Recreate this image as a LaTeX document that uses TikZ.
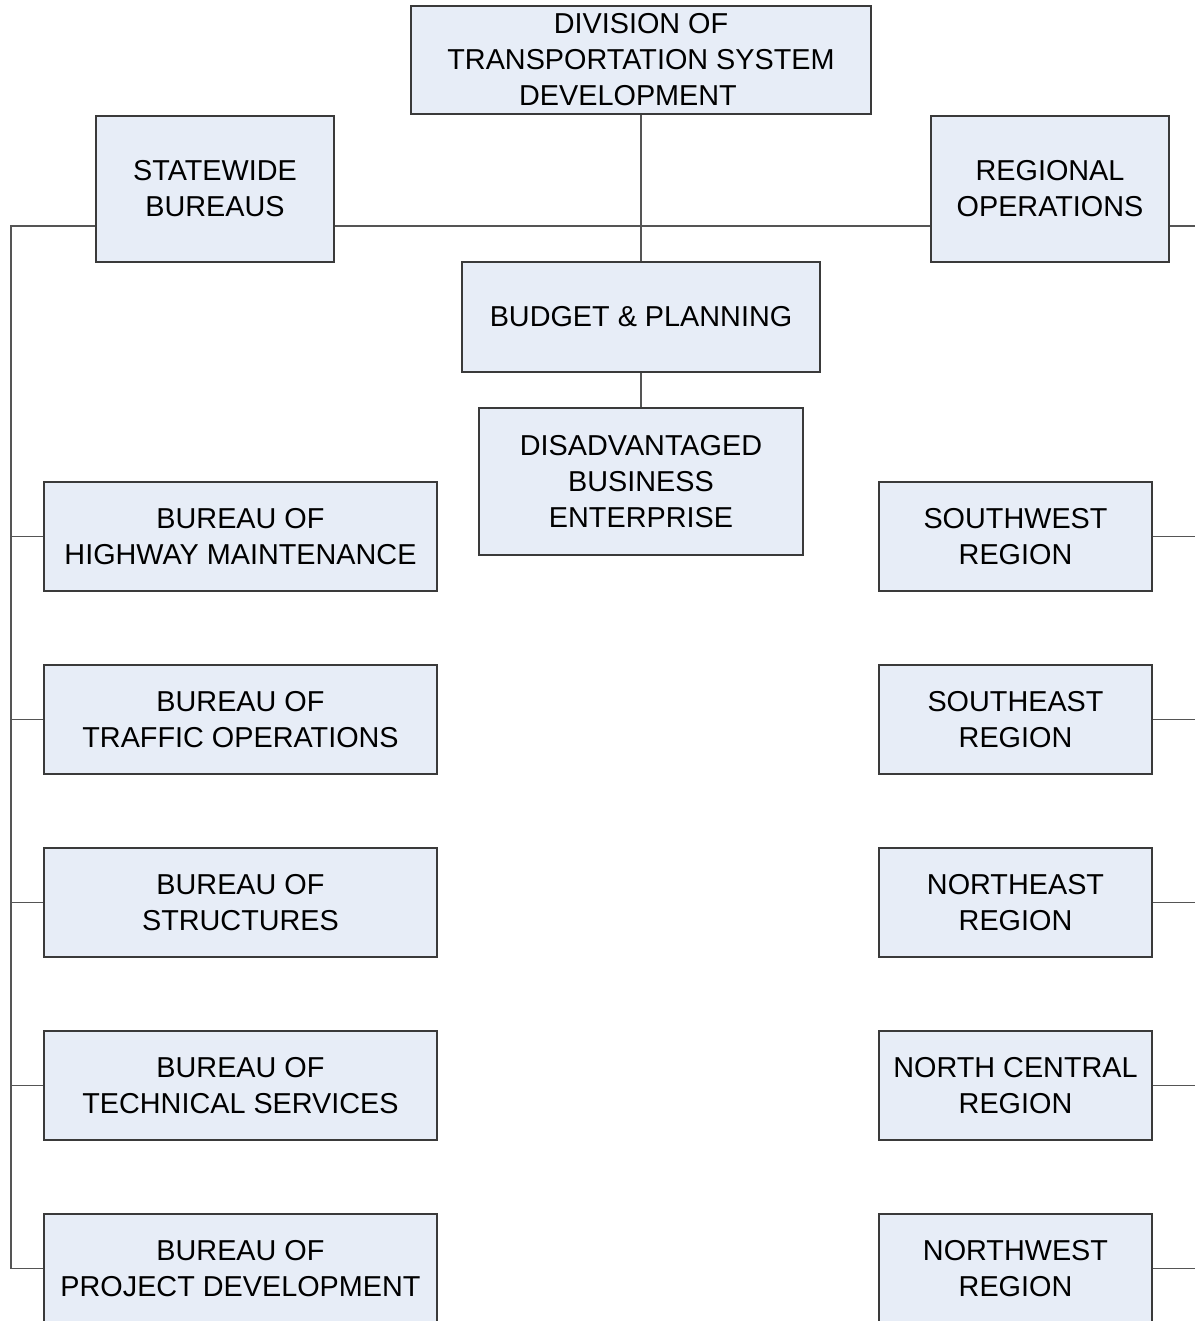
\documentclass[tikz,border=0pt]{standalone}
\usepackage{fontspec}
\setmainfont{Liberation Sans}
\definecolor{boxfill}{HTML}{E7EDF7}
\definecolor{boxline}{HTML}{3A3A3A}
\definecolor{conn}{HTML}{555555}
\begin{document}
\begin{tikzpicture}[x=1pt,y=-1pt,
  orgbox/.style={draw=boxline,fill=boxfill,line width=1.1pt,inner sep=0pt,
    align=center,font=\fontsize{28.8}{36}\selectfont,text=black},
  link/.style={draw=conn,line width=1.2pt}]
\useasboundingbox[fill=white] (0,0) rectangle (1195,1321);
% top level
\node[orgbox,minimum width=460pt,minimum height=108pt] (div) at (641,60)
  {DIVISION OF\\TRANSPORTATION SYSTEM\\\hbox{DEVELOPMENT\kern26pt}};
\node[orgbox,minimum width=238pt,minimum height=146pt] (sw) at (215,189)
  {STATEWIDE\\BUREAUS};
\node[orgbox,minimum width=238pt,minimum height=146pt] (ro) at (1050,189)
  {REGIONAL\\OPERATIONS};
\node[orgbox,minimum width=358pt,minimum height=110pt] (bp) at (641,317)
  {BUDGET \& PLANNING};
\node[orgbox,minimum width=324pt,minimum height=147pt] (dbe) at (641,481.5)
  {DISADVANTAGED\\BUSINESS\\ENTERPRISE};
% left bureaus
\node[orgbox,minimum width=393pt,minimum height=109pt] (b1) at (240.5,536.5)
  {BUREAU OF\\HIGHWAY MAINTENANCE};
\node[orgbox,minimum width=393pt,minimum height=109pt] (b2) at (240.5,719.5)
  {BUREAU OF\\TRAFFIC OPERATIONS};
\node[orgbox,minimum width=393pt,minimum height=109pt] (b3) at (240.5,902.5)
  {BUREAU OF\\STRUCTURES};
\node[orgbox,minimum width=393pt,minimum height=109pt] (b4) at (240.5,1085.5)
  {BUREAU OF\\TECHNICAL SERVICES};
\node[orgbox,minimum width=393pt,minimum height=109pt] (b5) at (240.5,1268.5)
  {BUREAU OF\\PROJECT DEVELOPMENT};
% right regions
\node[orgbox,minimum width=273pt,minimum height=109pt] (r1) at (1015.5,536.5)
  {SOUTHWEST\\REGION};
\node[orgbox,minimum width=273pt,minimum height=109pt] (r2) at (1015.5,719.5)
  {SOUTHEAST\\REGION};
\node[orgbox,minimum width=273pt,minimum height=109pt] (r3) at (1015.5,902.5)
  {NORTHEAST\\REGION};
\node[orgbox,minimum width=273pt,minimum height=109pt] (r4) at (1015.5,1085.5)
  {NORTH CENTRAL\\REGION};
\node[orgbox,minimum width=273pt,minimum height=109pt] (r5) at (1015.5,1268.5)
  {NORTHWEST\\REGION};
% connectors
\coordinate (hy) at (0,226);
\coordinate (lx) at (11,226);
\coordinate (rx) at (1195,226);
\draw[link] (div.south) -- (bp.north);
\draw[link] (bp.south) -- (dbe.north);
\draw[link] (sw.east |- hy) -- (ro.west |- hy);
\draw[link] (ro.east |- hy) -- (rx);
\draw[link] (sw.west |- hy) -- (lx) -- (lx |- b5.west) -- (b5.west);
\foreach \b in {b1,b2,b3,b4} \draw[link] (lx |- \b.west) -- (\b.west);
\foreach \r in {r1,r2,r3,r4,r5} \draw[link] (\r.east) -- (rx |- \r.east);
\end{tikzpicture}
\end{document}
